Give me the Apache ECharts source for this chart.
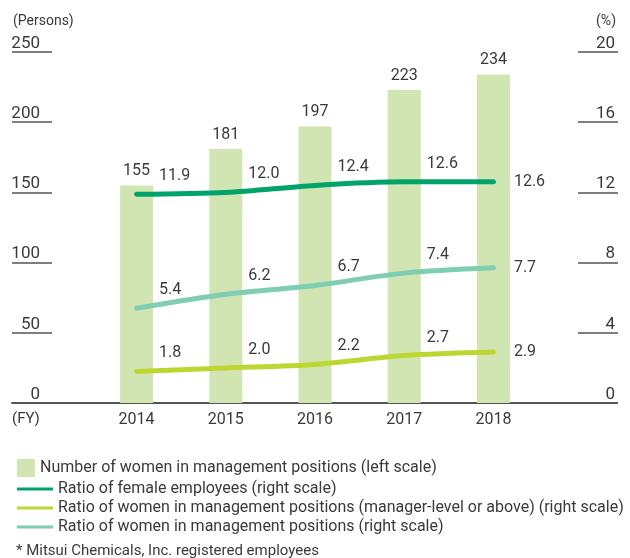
<!DOCTYPE html>
<html>
<head>
<meta charset="utf-8">
<script src="https://cdn.jsdelivr.net/npm/echarts@6/dist/echarts.min.js"></script>
<style>
  html, body { margin: 0; padding: 0; background: #fff; }
  #main { width: 630px; height: 558px; }
</style>
</head>
<body>
<div id="main"></div>
<script>
// data
var years = ['2014', '2015', '2016', '2017', '2018'];
var womenManagers = [155, 181, 197, 223, 234];
var ratioFemale = [11.9, 12.0, 12.4, 12.6, 12.6];
var ratioManagerLevel = [1.8, 2.0, 2.2, 2.7, 2.9];
var ratioManagement = [5.4, 6.2, 6.7, 7.4, 7.7];

var names = [
    'Number of women in management positions (left scale)',
    'Ratio of female employees (right scale)',
    'Ratio of women in management positions (manager-level or above) (right scale)',
    'Ratio of women in management positions (right scale)'
];
var colors = ['#d1e5b2', '#00a46b', '#bdd632', '#7fcdb2'];

var font = 'Roboto, "Liberation Sans", sans-serif';
var textColor = '#3a3a3a';
var axisColor = '#555';

// labels right-above the point, last one straight to the right
function lineData(values) {
    return values.map(function (v, i) {
        if (i === values.length - 1) {
            return { value: v, label: { offset: [0, 0] } };
        }
        return v;
    });
}

function lineSeries(idx, values) {
    return {
        name: names[idx],
        type: 'line',
        xAxisIndex: 1,
        yAxisIndex: 2,
        data: lineData(values),
        smooth: 0.3,
        symbol: 'circle',
        symbolSize: 1,
        itemStyle: { color: colors[idx] },
        lineStyle: { width: 5, cap: 'round', color: colors[idx] },
        label: {
            show: true,
            position: 'right',
            distance: 20,
            offset: [2, -18],
            color: textColor,
            fontFamily: font,
            fontSize: 16,
            formatter: function (p) { return p.value.toFixed(1); }
        },
        z: 3
    };
}

// side scales: pushed out from the plot, short lines drawn as ticks
function scaleAxis(pos, max, interval) {
    return {
        gridIndex: 1, type: 'value', position: pos, offset: 40,
        min: 0, max: max, interval: interval,
        axisLine: { show: true, lineStyle: { color: axisColor, opacity: 0 } },
        axisTick: { show: true, length: 40, lineStyle: { color: axisColor, width: 1.5, opacity: 1 } },
        axisLabel: {
            align: 'right', verticalAlign: 'bottom',
            margin: pos === 'left' ? 12 : 37,
            color: textColor, fontSize: 17
        },
        splitLine: { show: false }
    };
}

function smallText(text, pos) {
    var t = {
        text: text, top: 9,
        textStyle: { fontFamily: font, fontSize: 14, fontWeight: 'normal', color: textColor }
    };
    t[pos] = pos === 'left' ? 8 : 9;
    return t;
}

var chart = echarts.init(document.getElementById('main'));
var option = {
    animation: false,
    textStyle: { fontFamily: font },
    title: [
        smallText('(Persons)', 'left'),
        smallText('(%)', 'right'),
        {
            text: '* Mitsui Chemicals, Inc. registered employees',
            left: 11,
            top: 539,
            textStyle: { fontFamily: font, fontSize: 15, fontWeight: 'normal', color: textColor }
        }
    ],
    grid: [
        { left: 12, right: 13, top: 52, bottom: 155, outerBoundsMode: 'none' },
        { left: 92, right: 92, top: 52, bottom: 155, outerBoundsMode: 'none' }
    ],
    legend: [
        {
            data: [names[0]],
            left: 12,
            top: 454,
            itemWidth: 18,
            itemHeight: 18,
            itemGap: 0,
            icon: 'rect',
            textStyle: { fontFamily: font, fontSize: 16, color: textColor }
        },
        {
            data: [names[1], names[2], names[3]],
            orient: 'vertical',
            left: 12,
            top: 476,
            itemWidth: 36,
            itemHeight: 3,
            itemGap: 3,
            icon: 'rect',
            textStyle: { fontFamily: font, fontSize: 16, color: textColor }
        }
    ],
    xAxis: [
        {
            gridIndex: 0, type: 'value', min: 0, max: 1,
            axisLine: { show: true, lineStyle: { color: axisColor, width: 2 } },
            axisTick: { show: false }, axisLabel: { show: false }, splitLine: { show: false }
        },
        {
            gridIndex: 1, type: 'category', data: years,
            axisLine: { show: false }, axisTick: { show: false }, splitLine: { show: false },
            axisLabel: { color: textColor, fontSize: 16, margin: 9 },
            name: '(FY)',
            nameLocation: 'start',
            nameGap: 80,
            nameTextStyle: { align: 'left', verticalAlign: 'top', padding: [9, 0, 0, 0], color: textColor, fontSize: 15 }
        }
    ],
    yAxis: [
        { gridIndex: 0, type: 'value', min: 0, max: 1, show: false },
        scaleAxis('left', 250, 50),
        scaleAxis('right', 20, 4)
    ],
    series: [
        {
            name: names[0],
            type: 'bar',
            xAxisIndex: 1,
            yAxisIndex: 1,
            data: womenManagers,
            barWidth: 33,
            itemStyle: { color: colors[0] },
            label: { show: true, position: 'top', distance: 6, color: textColor, fontSize: 16 },
            z: 2
        },
        lineSeries(1, ratioFemale),
        lineSeries(2, ratioManagerLevel),
        lineSeries(3, ratioManagement)
    ]
};
chart.setOption(option);
</script>
</body>
</html>
